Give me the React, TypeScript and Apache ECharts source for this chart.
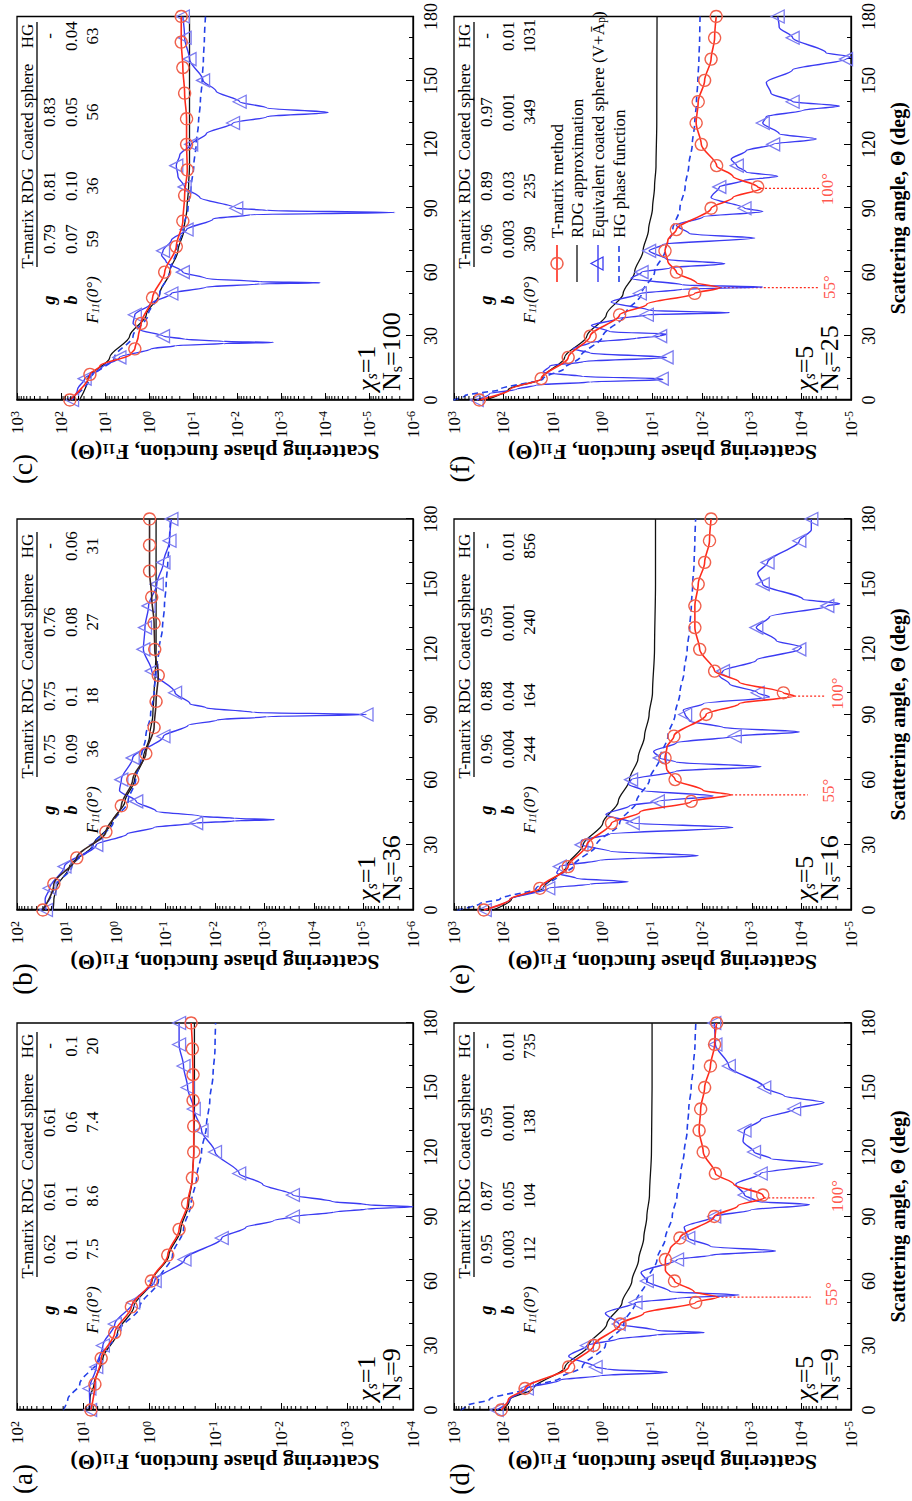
import React, { useEffect, useRef } from "react";
import * as echarts from "echarts";

const FONT = "'Liberation Serif', 'Times New Roman', Times, serif";
const RED = "#ff2b1c";
const RED_MARK = "#f0604c";
const BLUE = "#3b3bf2";
const BLUE_MARK = "#7c7cf0";
const HG_BLUE = "#2340e8";
const BLACK = "#111111";

const SERIES_NAMES = ["T-matrix method", "RDG approximation", "Equivalent coated sphere (V+Āp)", "HG phase function"];
const LEGEND_TEXTS = ["T-matrix method", "RDG approximation", "Equivalent coated sphere (V+Ā{p|p})", "HG phase function"];
const TABLE_HEADERS = ["T-matrix", "RDG", "Coated sphere", "HG"];
const ROW_LABELS = ["{bi|g}", "{bi|b}", "{i|F}{isub|11}{i|(0°)}"];
const MINOR_MULTIPLIERS = [2, 3, 4, 5, 6, 7, 8, 9];

type Pt = [number, number];

// ---------- Panel (a) chi=1, Ns=9 ----------
const A_TMATRIX: Pt[] = [[0,7.6],[12,6.6],[24,5.3],[36,3.3],[48,1.85],[60,0.92],[72,0.52],[84,0.35],[96,0.26],[108,0.22],[120,0.21],[132,0.21],[144,0.215],[156,0.215],[168,0.22],[180,0.23]];
const A_RDG: Pt[] = [[0,8.2],[6,7.8],[12,6.8],[24,5.0],[36,3.0],[48,1.7],[60,0.9],[72,0.5],[84,0.33],[96,0.25],[108,0.22],[120,0.21],[140,0.205],[160,0.205],[180,0.205]];
const A_COATED: Pt[] = [[0,7.8],[10,8.0],[20,6.3],[30,5.0],[40,3.3],[50,1.74],[60,0.82],[70,0.29],[80,0.079],[85,0.034],[88,0.013],[90,0.0066],[92,0.0016],[93.5,0.0005],[94.5,0.0001],[95.5,0.0005],[97,0.0017],[100,0.0066],[105,0.019],[110,0.043],[120,0.1],[130,0.16],[140,0.21],[150,0.26],[160,0.3],[170,0.35],[180,0.35]];
const A_HG: Pt[] = [[0,20],[5,17],[12,11.2],[24,5.6],[36,2.95],[48,1.38],[60,0.72],[72,0.44],[84,0.3],[96,0.23],[108,0.19],[120,0.16],[132,0.135],[144,0.12],[156,0.107],[168,0.1],[180,0.098]];
const A_TABLE = [["0.62","0.61","0.61","-"],["0.1","0.1","0.6","0.1"],["7.5","8.6","7.4","20"]];

// ---------- Panel (b) chi=1, Ns=36 ----------
const B_TMATRIX: Pt[] = [[0,30],[12,18],[24,6.2],[36,1.6],[48,0.78],[60,0.46],[72,0.25],[84,0.17],[96,0.155],[108,0.14],[120,0.165],[132,0.17],[144,0.19],[156,0.21],[168,0.21],[180,0.21]];
const B_RDG: Pt[] = [[0,18.6],[5,18],[10,16],[20,8.7],[30,2.9],[40,1.23],[50,0.66],[60,0.42],[70,0.28],[80,0.21],[90,0.18],[100,0.17],[110,0.16],[120,0.155],[150,0.155],[180,0.155]];
const B_COATED: Pt[] = [[0,26],[5,27],[10,22],[20,11],[30,2.5],[35,0.6],[38,0.17],[40,0.024],[41,0.004],[41.6,0.00063],[42.2,0.004],[43.2,0.02],[45.5,0.155],[50,0.39],[55,0.85],[60,0.78],[70,0.46],[80,0.11],[85,0.035],[87.5,0.009],[89,0.0009],[90,0.0000087],[91,0.0017],[93,0.015],[95,0.032],[100,0.064],[110,0.19],[120,0.28],[130,0.26],[140,0.22],[150,0.15],[160,0.11],[170,0.083],[180,0.076]];
const B_HG: Pt[] = [[0,31],[10,18],[20,7.8],[30,2.9],[40,1.15],[50,0.57],[60,0.4],[70,0.31],[80,0.25],[90,0.2],[100,0.17],[110,0.155],[120,0.135],[130,0.115],[140,0.105],[150,0.097],[160,0.09],[170,0.083],[180,0.079]];
const B_TABLE = [["0.75","0.75","0.76","-"],["0.09","0.1","0.08","0.06"],["36","18","27","31"]];

// ---------- Panel (c) chi=1, Ns=100 ----------
const C_TMATRIX: Pt[] = [[0,63],[12,22],[16,13],[21.5,2.6],[24,2.1],[30,1.75],[36,1.5],[48,0.83],[60,0.44],[72,0.24],[84,0.17],[96,0.155],[108,0.135],[120,0.14],[132,0.14],[144,0.155],[156,0.17],[168,0.185],[180,0.185]];
const C_RDG: Pt[] = [[0,38],[10,24.5],[20,7.8],[30,2.75],[40,1.15],[50,0.57],[60,0.34],[70,0.22],[80,0.16],[90,0.137],[100,0.126],[110,0.12],[140,0.12],[180,0.12]];
const C_COATED: Pt[] = [[0,56],[5,42],[10,29],[15,12],[20,4.7],[24,0.9],[25.5,0.25],[26.5,0.02],[27,0.0015],[27.5,0.02],[28.5,0.15],[30,0.48],[33,1.6],[36,2.3],[40,2.1],[45,0.95],[50,0.31],[53,0.05],[54.5,0.003],[55,0.00013],[55.5,0.003],[57,0.05],[60,0.17],[65,0.41],[68,0.52],[70,0.48],[75,0.31],[80,0.14],[85,0.035],[87,0.005],[88,0.0000026],[89,0.0021],[90,0.0104],[95,0.07],[100,0.155],[105,0.22],[110,0.24],[115,0.2],[120,0.11],[125,0.05],[130,0.0123],[133,0.0021],[135,0.000085],[137,0.0021],[140,0.0087],[145,0.03],[150,0.059],[160,0.12],[170,0.155],[180,0.17]];
const C_HG: Pt[] = [[0,63],[10,22],[20,6.1],[30,2.3],[40,1.05],[50,0.57],[60,0.34],[70,0.24],[80,0.17],[90,0.13],[100,0.11],[110,0.096],[120,0.085],[130,0.075],[140,0.068],[150,0.062],[160,0.058],[170,0.055],[180,0.052]];
const C_TABLE = [["0.79","0.81","0.83","-"],["0.07","0.10","0.05","0.04"],["59","36","56","63"]];

// ---------- Panel (d) chi=5, Ns=9 ----------
const D_TMATRIX: Pt[] = [[0,112],[5,80],[10,37],[20,4.9],[30,1.53],[40,0.45],[45,0.15],[50,0.0135],[52.5,0.0049],[55,0.0145],[60,0.036],[65,0.055],[70,0.055],[75,0.044],[80,0.028],[90,0.0057],[95,0.0019],[98.7,0.00056],[100,0.0006],[105,0.0023],[110,0.0054],[120,0.0095],[130,0.0115],[140,0.0107],[150,0.0089],[160,0.0068],[170,0.0056],[180,0.0051]];
const D_RDG: Pt[] = [[0,104],[5,74],[10,25],[20,5.8],[30,1.95],[40,0.83],[50,0.41],[60,0.26],[70,0.19],[80,0.15],[90,0.13],[100,0.115],[120,0.105],[150,0.102],[180,0.102]];
const D_COATED: Pt[] = [[0,138],[5,74],[10,34],[14,7.2],[16,1.1],[17.5,0.05],[19,0.83],[20,1.4],[25,4.9],[30,2.1],[33,0.51],[35,0.081],[36,0.0091],[37,0.081],[40,0.48],[45,0.89],[50,0.22],[52,0.032],[53.5,0.0018],[55,0.044],[60,0.13],[64,0.17],[70,0.032],[72,0.0068],[74,0.00033],[76,0.0068],[80,0.019],[85,0.023],[90,0.0057],[93,0.00105],[95.5,0.000069],[97,0.00078],[100,0.0014],[105,0.0021],[110,0.00066],[114.5,0.000037],[117,0.00042],[120,0.0009],[125,0.0015],[130,0.0014],[135,0.00066],[140,0.00014],[143,0.000035],[146,0.00022],[150,0.00056],[160,0.0029],[170,0.0054],[180,0.0057]];
const D_HG: Pt[] = [[0,735],[2,550],[5,190],[10,34],[15,7.2],[20,2.6],[30,0.89],[40,0.38],[50,0.22],[60,0.13],[70,0.081],[80,0.055],[90,0.04],[100,0.032],[110,0.027],[120,0.023],[130,0.02],[140,0.0186],[150,0.0166],[160,0.015],[170,0.0139],[180,0.0134]];
const D_TABLE = [["0.95","0.87","0.95","-"],["0.003","0.05","0.001","0.01"],["112","104","138","735"]];

// ---------- Panel (e) chi=5, Ns=16 ----------
const E_TMATRIX: Pt[] = [[0,250],[5,74],[10,18.6],[20,5.0],[30,2.1],[40,0.67],[45,0.18],[50,0.0166],[53,0.0026],[55,0.0095],[60,0.035],[65,0.052],[70,0.056],[75,0.051],[80,0.037],[90,0.0083],[95,0.0018],[98.5,0.00014],[100,0.00023],[105,0.0018],[110,0.0056],[120,0.0112],[130,0.014],[140,0.014],[150,0.012],[160,0.0089],[170,0.0071],[180,0.0066]];
const E_RDG: Pt[] = [[0,164],[5,70],[10,16],[20,5.4],[30,2.5],[40,1.0],[50,0.49],[60,0.29],[70,0.195],[80,0.145],[90,0.117],[100,0.1],[120,0.091],[150,0.087],[180,0.087]];
const E_COATED: Pt[] = [[0,240],[5,74],[10,12.6],[12,1.8],[13,0.31],[14.5,3.4],[17,8.5],[20,7.4],[23,1.15],[25,0.012],[27,0.72],[30,2.7],[32,2.7],[35,0.72],[38,0.0024],[40,0.25],[44,0.87],[48,0.29],[50,0.078],[52.5,0.006],[55,0.155],[58,0.31],[60,0.27],[64,0.033],[66,0.00065],[68,0.033],[70,0.071],[73,0.095],[77,0.033],[80,0.0022],[82,0.00011],[84,0.0038],[87,0.018],[90,0.022],[92,0.024],[95,0.0095],[98,0.00044],[100,0.00076],[104,0.0028],[108,0.0045],[110,0.0038],[115,0.00081],[120,0.00011],[121,0.0001],[124,0.00032],[130,0.00081],[135,0.00044],[140,0.00003],[141,0.000017],[143,0.000093],[150,0.0006],[155,0.00076],[160,0.00048],[170,0.00011],[175,0.000063],[180,0.000063]];
const E_HG: Pt[] = [[0,856],[3,300],[5,118],[10,22],[15,8.5],[20,4.0],[30,1.35],[40,0.46],[50,0.21],[60,0.115],[70,0.071],[80,0.049],[90,0.035],[100,0.028],[110,0.023],[120,0.02],[130,0.0178],[140,0.0165],[150,0.0155],[160,0.0145],[170,0.014],[180,0.0135]];
const E_TABLE = [["0.96","0.88","0.95","-"],["0.004","0.04","0.001","0.01"],["244","164","240","856"]];

// ---------- Panel (f) chi=5, Ns=25 ----------
const F_TMATRIX: Pt[] = [[0,309],[5,74],[10,17.5],[20,5.0],[30,1.8],[40,0.46],[45,0.13],[50,0.0141],[52.7,0.0044],[55,0.013],[60,0.033],[65,0.049],[70,0.056],[75,0.049],[80,0.033],[90,0.0066],[95,0.0024],[99.3,0.00065],[100,0.00076],[105,0.0024],[110,0.0051],[120,0.0104],[130,0.0132],[140,0.012],[150,0.0089],[160,0.0066],[170,0.0056],[180,0.0052]];
const F_RDG: Pt[] = [[0,235],[5,80],[10,17],[20,5.9],[30,2.1],[40,0.85],[50,0.39],[60,0.23],[70,0.155],[80,0.12],[90,0.1],[100,0.091],[110,0.085],[130,0.082],[180,0.081]];
const F_COATED: Pt[] = [[0,349],[3,190],[5,55],[7,22],[8.5,1.8],[9.5,0.062],[10,0.065],[11,2.5],[13,16],[16,11.7],[18,2.5],[20,0.052],[22,1.8],[24,4.0],[27,1.8],[29,0.21],[30,0.07],[31,0.052],[32,0.72],[35,1.7],[38,0.54],[40,0.13],[41,0.0028],[42,0.115],[46,0.68],[50,0.18],[52,0.025],[53,0.0006],[54,0.025],[57,0.27],[60,0.166],[62,0.045],[64,0.0035],[66,0.052],[70,0.117],[73,0.062],[76,0.00087],[78,0.018],[82,0.033],[86,0.0095],[88.5,0.0006],[90,0.0014],[95,0.0066],[100,0.0045],[103,0.0015],[105,0.0003],[107,0.0013],[110,0.002],[113,0.0026],[117,0.0013],[120,0.00037],[122.5,0.00005],[125,0.00028],[130,0.0006],[133,0.00051],[136,0.000093],[138,0.000017],[140,0.00015],[144,0.00041],[149,0.00051],[155,0.00015],[160,0.0000126],[161,0.00001],[163,0.000032],[170,0.00015],[175,0.00028],[180,0.0003]];
const F_HG: Pt[] = [[0,1031],[2,600],[5,118],[10,16],[15,5.9],[20,2.9],[30,1.0],[40,0.36],[50,0.166],[60,0.091],[70,0.056],[80,0.039],[90,0.028],[100,0.022],[110,0.0186],[120,0.0158],[130,0.0141],[140,0.013],[150,0.0122],[160,0.0116],[170,0.0112],[180,0.011]];
const F_TABLE = [["0.96","0.89","0.97","-"],["0.003","0.03","0.001","0.01"],["309","235","349","1031"]];

// annotations: dotted line [top point, bottom point], label point
const D_ANN = [
  { line: [[52.5, 0.0049], [52.5, 0.000065]] as Pt[], label: [54, 0.000025] as Pt, text: "55°" },
  { line: [[98.7, 0.00056], [98.7, 0.00005]] as Pt[], label: [99.5, 0.000019] as Pt, text: "100°" },
];
const E_ANN = [
  { line: [[53, 0.0026], [53, 0.000074]] as Pt[], label: [55, 0.000029] as Pt, text: "55°" },
  { line: [[98.5, 0.00014], [98.5, 0.000032]] as Pt[], label: [99.6, 0.0000186] as Pt, text: "100°" },
];
const F_ANN = [
  { line: [[52.7, 0.0044], [52.7, 0.000044]] as Pt[], label: [53, 0.000027] as Pt, text: "55°" },
  { line: [[99.3, 0.00065], [99.3, 0.000044]] as Pt[], label: [99, 0.00003] as Pt, text: "100°" },
];

const PANELS = [
  { letter: "(a)", grid: { left: 91, top: 17, width: 387, height: 396 }, exp: [-4, 2], tm: A_TMATRIX, rdg: A_RDG, cs: A_COATED, hg: A_HG, tmStep: 12, tmLine: RED, table: A_TABLE, chi: "1", ns: "9", ann: [], xName: false, legend: false },
  { letter: "(b)", grid: { left: 591, top: 17, width: 391, height: 396 }, exp: [-6, 2], tm: B_TMATRIX, rdg: B_RDG, cs: B_COATED, hg: B_HG, tmStep: 12, tmLine: "#3a2424", table: B_TABLE, chi: "1", ns: "36", ann: [], xName: false, legend: false },
  { letter: "(c)", grid: { left: 1101, top: 17, width: 385, height: 396 }, exp: [-6, 3], tm: C_TMATRIX, rdg: C_RDG, cs: C_COATED, hg: C_HG, tmStep: 12, tmLine: RED, table: C_TABLE, chi: "1", ns: "100", ann: [], xName: false, legend: false },
  { letter: "(d)", grid: { left: 91, top: 454, width: 387, height: 397 }, exp: [-5, 3], tm: D_TMATRIX, rdg: D_RDG, cs: D_COATED, hg: D_HG, tmStep: 10, tmLine: RED, table: D_TABLE, chi: "5", ns: "9", ann: D_ANN, xName: true, legend: false },
  { letter: "(e)", grid: { left: 591, top: 454, width: 391, height: 397 }, exp: [-5, 3], tm: E_TMATRIX, rdg: E_RDG, cs: E_COATED, hg: E_HG, tmStep: 10, tmLine: RED, table: E_TABLE, chi: "5", ns: "16", ann: E_ANN, xName: true, legend: false },
  { letter: "(f)", grid: { left: 1101, top: 454, width: 385, height: 397 }, exp: [-5, 3], tm: F_TMATRIX, rdg: F_RDG, cs: F_COATED, hg: F_HG, tmStep: 10, tmLine: RED, table: F_TABLE, chi: "5", ns: "25", ann: F_ANN, xName: true, legend: true },
];

const COL_X = [100, 161, 214, 288, 364];
const ROW_Y = [10, 32, 54, 75];
const LEGEND_ROWS = [103, 123, 144, 165];

function txt(x: number, y: number, text: string, size: number, align: string, extra: any = {}) {
  return {
    type: "text", x, y,
    style: { text, fontSize: size, fontFamily: FONT, fill: "#000", align, verticalAlign: "middle", textAlign: align, textVerticalAlign: "middle", ...extra },
  };
}

function buildOption() {
  const grid: any[] = [];
  const xAxis: any[] = [];
  const yAxis: any[] = [];
  const series: any[] = [];
  const graphic: any[] = [];

  PANELS.forEach((p, i) => {
    const g = p.grid;
    grid.push({ ...g, show: true, borderColor: "#000", borderWidth: 1.3, backgroundColor: "transparent" });
    xAxis.push({
      gridIndex: i, type: "value", min: 0, max: 180, interval: 30,
      axisLine: { show: true, onZero: false, lineStyle: { color: "#000", width: 1.3 } },
      axisTick: { show: true, inside: true, length: 7, lineStyle: { color: "#000", width: 1 } },
      minorTick: { show: true, splitNumber: 3, length: 4, lineStyle: { color: "#000", width: 1 } },
      splitLine: { show: false },
      axisLabel: { color: "#000", fontSize: 18, fontFamily: FONT, margin: 9 },
      name: p.xName ? "Scattering angle, Θ (deg)" : "",
      nameLocation: "middle", nameGap: 37,
      nameTextStyle: { fontFamily: FONT, fontWeight: "bold", fontSize: 20, color: "#000" },
    });
    yAxis.push({
      gridIndex: i, type: "log", logBase: 10,
      min: Math.pow(10, p.exp[0]), max: Math.pow(10, p.exp[1]),
      splitNumber: p.exp[1] - p.exp[0],
      axisLine: { show: true, onZero: false, lineStyle: { color: "#000", width: 1.3 } },
      axisTick: { show: true, inside: true, length: 7, lineStyle: { color: "#000", width: 1 } },
      splitLine: { show: false },
      axisLabel: {
        margin: 11,
        formatter: (v: number) => `{b|10}{s|${Math.round(Math.log10(v))}}`,
        rich: {
          b: { fontSize: 17, fontFamily: FONT, color: "#000" },
          s: { fontSize: 12, fontFamily: FONT, color: "#000", verticalAlign: "top", lineHeight: 11 },
        },
      },
      name: "{t|Scattering phase function, F}{u|11}{t|(Θ)}",
      nameLocation: "middle", nameGap: 39,
      nameTextStyle: {
        padding: [0, 20, 0, 0],
        rich: {
          t: { fontFamily: FONT, fontWeight: "bold", fontSize: 22, color: "#000" },
          u: { fontFamily: FONT, fontWeight: "bold", fontSize: 14, color: "#000", verticalAlign: "bottom", lineHeight: 13 },
        },
      },
    });

    // log minor ticks
    const minor: Pt[] = [];
    for (let e = p.exp[0]; e < p.exp[1]; e++) {
      MINOR_MULTIPLIERS.forEach((m) => minor.push([0, m * Math.pow(10, e)]));
    }
    series.push({
      type: "custom", name: "minor", xAxisIndex: i, yAxisIndex: i, silent: true, clip: false, z: 5,
      data: minor,
      renderItem: (_params: any, api: any) => {
        const pt = api.coord([0, api.value(1)]);
        return { type: "line", shape: { x1: pt[0], y1: pt[1], x2: pt[0] + 4, y2: pt[1] }, style: { stroke: "#000", lineWidth: 1 } };
      },
    });

    series.push({
      name: SERIES_NAMES[1], type: "line", xAxisIndex: i, yAxisIndex: i, smooth: 0.3, smoothMonotone: "x",
      data: p.rdg.map((d) => ({ value: d })), symbol: "none",
      lineStyle: { color: BLACK, width: 1.3 }, itemStyle: { color: BLACK }, z: 2,
    });
    series.push({
      name: SERIES_NAMES[3], type: "line", xAxisIndex: i, yAxisIndex: i, smooth: 0.3, smoothMonotone: "x",
      data: p.hg.map((d) => ({ value: d })), symbol: "none",
      lineStyle: { color: HG_BLUE, width: 1.6, type: [6, 4] }, itemStyle: { color: HG_BLUE }, z: 2,
    });
    series.push({
      name: SERIES_NAMES[2], type: "line", xAxisIndex: i, yAxisIndex: i, smooth: 0.3, smoothMonotone: "x",
      data: p.cs.map(([a, v]) => ({ value: [a, v], symbol: a % 10 === 0 ? "triangle" : "none" })),
      symbol: "triangle", symbolSize: 13, showSymbol: true,
      lineStyle: { color: BLUE, width: 1.4 },
      itemStyle: { color: "rgba(0,0,0,0)", borderColor: BLUE_MARK, borderWidth: 1.3 }, z: 3,
    });
    series.push({
      name: SERIES_NAMES[0], type: "line", xAxisIndex: i, yAxisIndex: i, smooth: 0.3, smoothMonotone: "x",
      data: p.tm.map(([a, v]) => ({ value: [a, v], symbol: a % p.tmStep === 0 ? "circle" : "none" })),
      symbol: "circle", symbolSize: 12, showSymbol: true,
      lineStyle: { color: p.tmLine, width: 1.6 },
      itemStyle: { color: "rgba(0,0,0,0)", borderColor: RED_MARK, borderWidth: 1.3 }, z: 4,
    });

    p.ann.forEach((a: any) => {
      series.push({
        name: "annotation", type: "line", xAxisIndex: i, yAxisIndex: i, data: a.line, symbol: "none", silent: true,
        lineStyle: { color: RED, width: 1.2, type: [2, 2] }, z: 1,
      });
      series.push({
        name: "annotation-label", type: "scatter", xAxisIndex: i, yAxisIndex: i, silent: true,
        data: [{ value: a.label }], symbolSize: 1, itemStyle: { color: "rgba(0,0,0,0)" },
        label: { show: true, position: "inside", formatter: a.text, color: RED, fontSize: 17, fontFamily: FONT },
      });
    });

    // panel letter
    graphic.push(txt(g.left - 69, g.top + 6, p.letter, 27, "center"));
    // table
    TABLE_HEADERS.forEach((h, j) => graphic.push(txt(g.left + COL_X[j + 1], g.top + ROW_Y[0], h, 17, "center")));
    graphic.push({
      type: "line", shape: { x1: g.left + 133, y1: g.top + 20, x2: g.left + 378, y2: g.top + 20 },
      style: { stroke: "#000", lineWidth: 1.3 },
    });
    const richTable = {
      bi: { fontSize: 18, fontFamily: FONT, fontStyle: "italic", fontWeight: "bold", color: "#000" },
      i: { fontSize: 17, fontFamily: FONT, fontStyle: "italic", color: "#000" },
      isub: { fontSize: 11, fontFamily: FONT, fontStyle: "italic", color: "#000", verticalAlign: "bottom", lineHeight: 12 },
    };
    ROW_LABELS.forEach((lab, r) => {
      graphic.push(txt(g.left + COL_X[0], g.top + ROW_Y[r + 1], lab, 17, "center", { rich: richTable }));
      p.table[r].forEach((val: string, j: number) => {
        graphic.push(txt(g.left + COL_X[j + 1], g.top + ROW_Y[r + 1], val, 17, "center"));
      });
    });
    const richLab = {
      c: { fontSize: 26, fontFamily: FONT, fontStyle: "italic", color: "#000" },
      n: { fontSize: 26, fontFamily: FONT, color: "#000" },
      si: { fontSize: 16, fontFamily: FONT, fontStyle: "italic", color: "#000", verticalAlign: "bottom", lineHeight: 16 },
      s: { fontSize: 16, fontFamily: FONT, color: "#000", verticalAlign: "bottom", lineHeight: 16 },
    };
    graphic.push(txt(g.left + 9, g.top + g.height - 47, `{c|χ}{si|s}{n|=${p.chi}}`, 26, "left", { rich: richLab }));
    graphic.push(txt(g.left + 9, g.top + g.height - 22, `{n|N}{s|s}{n|=${p.ns}}`, 26, "left", { rich: richLab }));

    if (p.legend) {
      const x0 = g.left + 118;
      const x1 = g.left + 155;
      const xc = (x0 + x1) / 2;
      const ys = LEGEND_ROWS.map((r) => g.top + r);
      graphic.push({ type: "line", shape: { x1: x0, y1: ys[0], x2: x1, y2: ys[0] }, style: { stroke: RED, lineWidth: 1.6 } });
      graphic.push({ type: "circle", shape: { cx: xc, cy: ys[0], r: 6 }, style: { stroke: RED_MARK, fill: "none", lineWidth: 1.3 } });
      graphic.push({ type: "line", shape: { x1: x0, y1: ys[1], x2: x1, y2: ys[1] }, style: { stroke: BLACK, lineWidth: 1.3 } });
      graphic.push({ type: "line", shape: { x1: x0, y1: ys[2], x2: x1, y2: ys[2] }, style: { stroke: BLUE, lineWidth: 1.4 } });
      graphic.push({
        type: "polygon", shape: { points: [[xc, ys[2] - 7], [xc - 6.5, ys[2] + 5], [xc + 6.5, ys[2] + 5]] },
        style: { stroke: BLUE, fill: "none", lineWidth: 1.3 },
      });
      graphic.push({ type: "line", shape: { x1: x0, y1: ys[3], x2: x1, y2: ys[3] }, style: { stroke: HG_BLUE, lineWidth: 1.6, lineDash: [6, 4] } });
      LEGEND_TEXTS.forEach((t, k) => {
        graphic.push(txt(x1 + 7, ys[k], t, 17, "left", {
          rich: { p: { fontSize: 12, fontFamily: FONT, color: "#000", verticalAlign: "bottom", lineHeight: 12 } },
        }));
      });
    }
  });

  return {
    animation: false,
    backgroundColor: "#fff",
    grid, xAxis, yAxis, series, graphic,
  };
}

export default function App() {
  const ref = useRef<HTMLDivElement>(null);
  useEffect(() => {
    if (!ref.current) return;
    const chart = echarts.init(ref.current, null, { renderer: "svg" });
    chart.setOption(buildOption() as any);
    return () => chart.dispose();
  }, []);
  return (
    <div style={{ position: "absolute", left: 0, top: 0, width: 912, height: 1501, overflow: "hidden", background: "#fff" }}>
      <div
        ref={ref}
        style={{
          position: "absolute", left: 0, top: 0, width: 1501, height: 912,
          transformOrigin: "0 0", transform: "translate(0px, 1501px) rotate(-90deg)",
        }}
      />
    </div>
  );
}
